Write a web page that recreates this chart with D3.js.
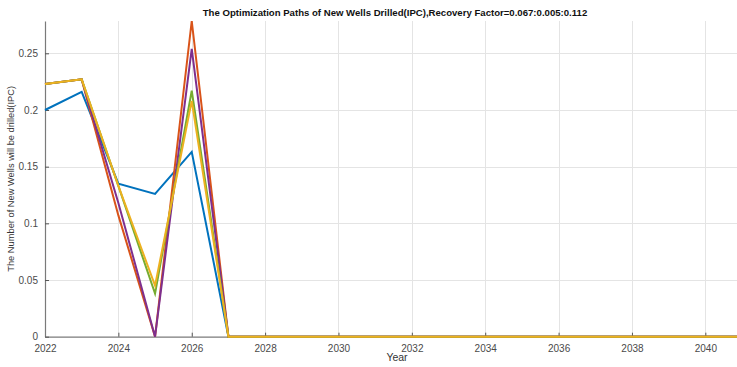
<!DOCTYPE html>
<html>
<head>
<meta charset="utf-8">
<script src="https://cdn.jsdelivr.net/npm/d3@7"></script>
<style>
  html, body { margin: 0; padding: 0; background: #fff; }
  svg { display: block; font-family: "Liberation Sans", Arial, sans-serif; }
</style>
</head>
<body>
<svg id="chart" width="737" height="367"></svg>
<script>
// Years on the horizontal axis
const years = d3.range(2022, 2042);

// Number of new wells drilled per year, one path per recovery-factor run
const pathBlue   = [0.200, 0.216, 0.135, 0.126, 0.163, 0, 0, 0, 0, 0, 0, 0, 0, 0, 0, 0, 0, 0, 0, 0];
const pathOrange = [0.223, 0.227, 0.107, 0.000, 0.2785, 0, 0, 0, 0, 0, 0, 0, 0, 0, 0, 0, 0, 0, 0, 0];
const pathPurple = [0.223, 0.227, 0.118, 0.000, 0.254, 0, 0, 0, 0, 0, 0, 0, 0, 0, 0, 0, 0, 0, 0, 0];
const pathGreen  = [0.223, 0.227, 0.133, 0.038, 0.217, 0, 0, 0, 0, 0, 0, 0, 0, 0, 0, 0, 0, 0, 0, 0];
const pathYellow = [0.223, 0.227, 0.133, 0.045, 0.208, 0, 0, 0, 0, 0, 0, 0, 0, 0, 0, 0, 0, 0, 0, 0];

const seriesValues = [pathBlue, pathOrange, pathPurple, pathGreen, pathYellow];
const seriesColors = ["#0072BD", "#D95319", "#7E2F8E", "#77AC30", "#EDB120"];

const xTicks = [2022, 2024, 2026, 2028, 2030, 2032, 2034, 2036, 2038, 2040];
const yTicks = [0, 0.05, 0.1, 0.15, 0.2, 0.25];
const yTickLabels = ["0", "0.05", "0.1", "0.15", "0.2", "0.25"];

const titleText = "The Optimization Paths of New Wells Drilled(IPC),Recovery Factor=0.067:0.005:0.112";
const xLabelText = "Year";
const yLabelText = "The Number of New Wells will be drilled(IPC)";

const svg = d3.select("#chart");
const plotLeft = 45, plotRight = 742, plotTop = 21, plotBottom = 336.7;

const x = d3.scaleLinear().domain([2022, 2041]).range([plotLeft, plotRight]);
const y = d3.scaleLinear().domain([0, 0.2785]).range([plotBottom, plotTop]);

// grid
const grid = svg.append("g").attr("stroke", "#e4e4e4").attr("stroke-width", 1);
grid.selectAll("line.vx").data(xTicks.slice(1)).join("line")
  .attr("x1", d => Math.round(x(d)) + 0.5).attr("x2", d => Math.round(x(d)) + 0.5)
  .attr("y1", plotTop).attr("y2", plotBottom);
grid.selectAll("line.hy").data(yTicks.slice(1)).join("line")
  .attr("x1", plotLeft).attr("x2", plotRight)
  .attr("y1", d => Math.round(y(d)) + 0.5).attr("y2", d => Math.round(y(d)) + 0.5);

// axes (ticks drawn inward)
const xAxis = d3.axisBottom(x).tickValues(xTicks).tickFormat(d3.format("d"))
  .tickSizeInner(-4).tickSizeOuter(0).tickPadding(8);
const gx = svg.append("g").attr("transform", `translate(0,${plotBottom})`).call(xAxis);
const yAxis = d3.axisLeft(y).tickValues(yTicks).tickFormat((d, i) => yTickLabels[i])
  .tickSizeInner(-4).tickSizeOuter(0).tickPadding(7);
const gy = svg.append("g").attr("transform", `translate(${plotLeft},0)`).call(yAxis);

[gx, gy].forEach(g => {
  g.select(".domain").attr("stroke", "#7a7a7a").attr("stroke-width", 1.2);
  g.selectAll(".tick line").attr("stroke", "#555");
  g.selectAll(".tick text").attr("fill", "#4a4a4a").style("font-size", "10px")
    .style("font-family", "'Liberation Sans', Arial, sans-serif");
});

// data lines
const line = d3.line().x((d, i) => x(years[i])).y(d => y(d));
svg.append("g").attr("fill", "none").attr("stroke-width", 2).attr("stroke-linejoin", "miter")
  .selectAll("path").data(seriesValues).join("path")
  .attr("stroke", (d, i) => seriesColors[i])
  .attr("d", line);

// title and axis labels
svg.append("text")
  .attr("x", 395).attr("y", 16)
  .attr("text-anchor", "middle")
  .style("font-size", "9.6px").style("font-weight", "bold").attr("fill", "#111")
  .text(titleText);

svg.append("text")
  .attr("x", 397).attr("y", 361)
  .attr("text-anchor", "middle")
  .style("font-size", "10.5px").attr("fill", "#333")
  .text(xLabelText);

svg.append("text")
  .attr("transform", `translate(14,${(plotTop + plotBottom) / 2}) rotate(-90)`)
  .attr("text-anchor", "middle")
  .style("font-size", "9.3px").attr("fill", "#333")
  .text(yLabelText);
</script>
</body>
</html>
